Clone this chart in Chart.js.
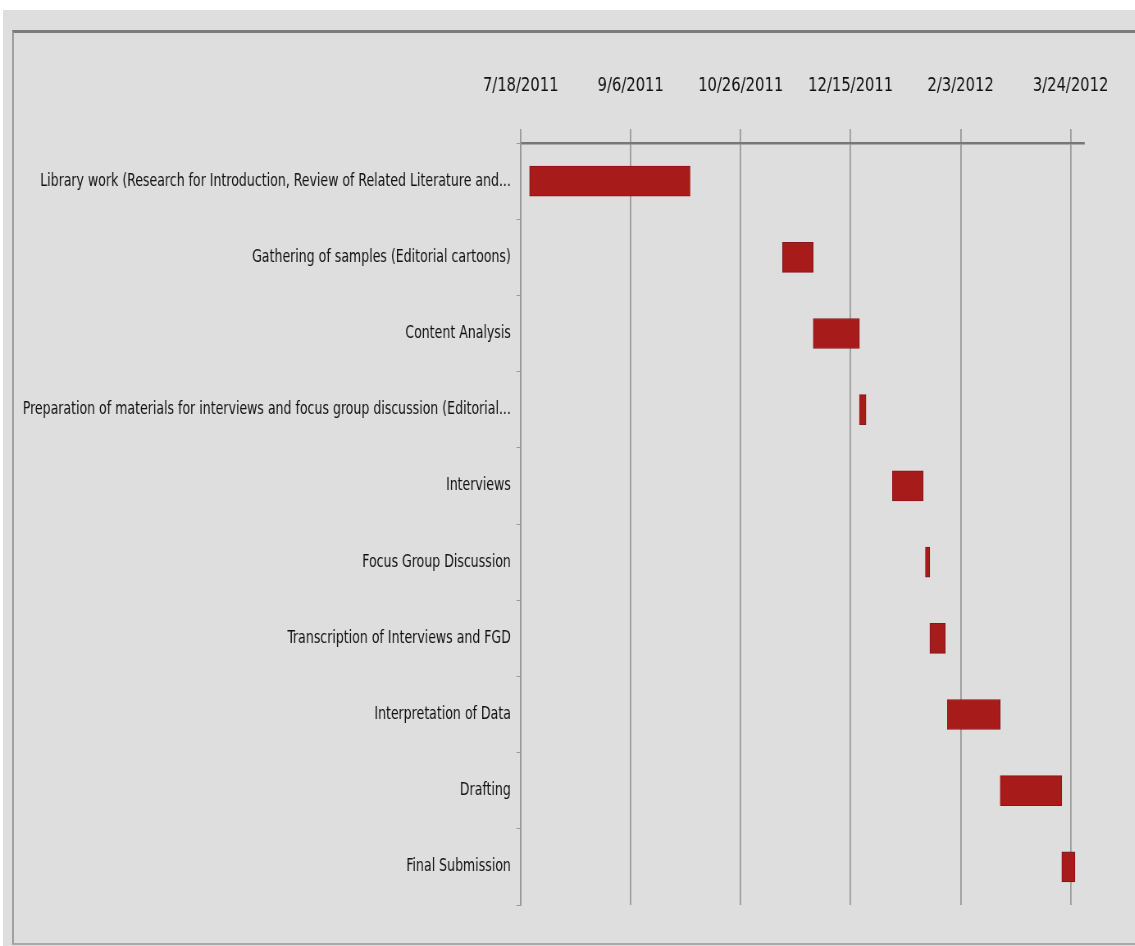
<!DOCTYPE html>
<html>
<head>
<meta charset="utf-8">
<script src="https://cdn.jsdelivr.net/npm/chart.js@4"></script>
<style>
    html, body { margin: 0; padding: 0; background: #fff; }
    #wrap { position: relative; width: 1135px; height: 946px; overflow: hidden; }
    #panel { position: absolute; left: 3px; top: 10px; width: 1132px; height: 936px; background: #dedede; }
    #frame { position: absolute; left: 12px; top: 30px; width: 1130px; height: 910px;
             border-top: 3px solid #7c7c7c; border-left: 2px solid #a0a0a0; border-bottom: 2px solid #a8a8a8; }
    /* the source picture is squeezed sideways, so the canvas is drawn wider and narrowed */
    #chart { position: absolute; left: 0; top: 0; transform: scaleX(0.82); transform-origin: 0 0; }
</style>
</head>
<body>
<div id="wrap">
    <div id="panel"></div>
    <div id="frame"></div>
    <canvas id="chart" width="1384" height="946"></canvas>
</div>
<script>
// tasks, top to bottom
const tasks = [
    "Library work (Research for Introduction, Review of Related Literature and...",
    "Gathering of samples (Editorial cartoons)",
    "Content Analysis",
    "Preparation of materials for interviews and focus group discussion (Editorial...",
    "Interviews",
    "Focus Group Discussion",
    "Transcription of Interviews and FGD",
    "Interpretation of Data",
    "Drafting",
    "Final Submission"
];
const startDates = ["2011-07-22", "2011-11-14", "2011-11-28", "2011-12-19", "2012-01-03",
                    "2012-01-18", "2012-01-20", "2012-01-28", "2012-02-21", "2012-03-20"];
const endDates = ["2011-10-03", "2011-11-28", "2011-12-19", "2011-12-22", "2012-01-17",
                  "2012-01-20", "2012-01-27", "2012-02-21", "2012-03-20", "2012-03-26"];

const tickDates = ["2011-07-18", "2011-09-06", "2011-10-26", "2011-12-15", "2012-02-03", "2012-03-24"];
const tickLabels = ["7/18/2011", "9/6/2011", "10/26/2011", "12/15/2011", "2/3/2012", "3/24/2012"];
const axisMin = "2011-07-18";
const axisMax = "2012-03-30";

const toMs = (d) => Date.parse(d + "T00:00:00Z");

let bars = [];
for (let i = 0; i < tasks.length; i++) {
    bars.push([toMs(startDates[i]), toMs(endDates[i])]);
}

const fontFamily = "'Liberation Sans Narrow', 'DejaVu Sans Condensed', 'Open Sans', sans-serif";

let ctx = document.getElementById("chart");
new Chart(ctx, {
    type: "bar",
    data: {
        labels: tasks,
        datasets: [{
            data: bars,
            backgroundColor: "#a71b1b",
            borderColor: "#8c1515",
            borderWidth: 1,
            borderSkipped: false,
            barThickness: 30
        }]
    },
    options: {
        indexAxis: "y",
        responsive: false,
        animation: false,
        layout: { padding: { left: 0, right: 56, top: 43, bottom: 41 } },
        plugins: {
            legend: { display: false },
            tooltip: { enabled: false }
        },
        scales: {
            x: {
                type: "linear",
                position: "top",
                min: toMs(axisMin),
                max: toMs(axisMax),
                afterBuildTicks: (axis) => {
                    axis.ticks = tickDates.map(d => ({ value: toMs(d) }));
                },
                ticks: {
                    color: "#111",
                    font: { family: fontFamily, size: 20 },
                    padding: 31,
                    maxRotation: 0,
                    callback: (v, i) => tickLabels[i]
                },
                grid: { color: "#9a9a9a", lineWidth: 1.8, tickLength: 14 },
                border: { display: true, color: "#777", width: 2.5 }
            },
            y: {
                afterFit: (scale) => { scale.width = 635; },
                ticks: {
                    color: "#111",
                    font: { family: fontFamily, size: 17 },
                    padding: 7
                },
                grid: { offset: true, drawOnChartArea: false, drawTicks: true, tickLength: 5, color: "#999" },
                border: { display: true, color: "#999", width: 1.8 }
            }
        }
    }
});
</script>
</body>
</html>
